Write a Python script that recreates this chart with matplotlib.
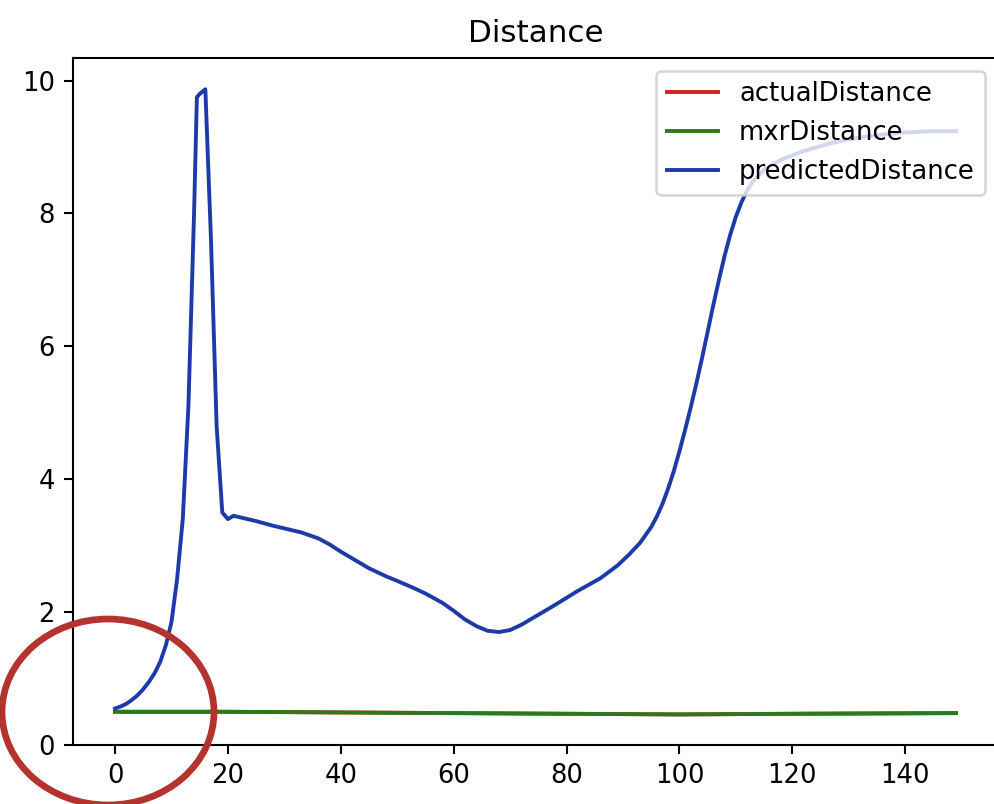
import matplotlib
matplotlib.use("Agg")
import matplotlib.pyplot as plt

# step indices and distances for each series
actual_x = [0, 20, 40, 60, 80, 100, 120, 149]
actual_y = [0.50, 0.50, 0.49, 0.48, 0.47, 0.46, 0.47, 0.48]

mxr_x = [0, 20, 40, 60, 80, 100, 120, 149]
mxr_y = [0.50, 0.50, 0.49, 0.48, 0.47, 0.46, 0.47, 0.48]

pred_x = [0, 1, 2, 3, 4, 5, 6, 7, 8, 9, 10, 11, 12, 13, 14, 14.5, 15, 16, 17,
          18, 19, 20, 21, 22, 25, 28, 30, 33, 36, 38, 40, 43, 45, 48, 50, 53,
          55, 58, 60, 62, 64, 66, 68, 70, 72, 75, 78, 82, 86, 89, 91, 93, 95,
          96, 97, 98, 99, 100, 101, 102, 103, 104, 105, 106, 107, 108, 109,
          110, 111, 112, 113, 115, 118, 122, 126, 130, 135, 140, 145, 149]
pred_y = [0.55, 0.58, 0.62, 0.68, 0.75, 0.84, 0.95, 1.08, 1.25, 1.50, 1.85,
          2.50, 3.40, 5.10, 8.00, 9.75, 9.80, 9.87, 7.60, 4.80, 3.50, 3.40,
          3.45, 3.43, 3.37, 3.30, 3.26, 3.20, 3.11, 3.02, 2.91, 2.76, 2.66,
          2.54, 2.47, 2.36, 2.28, 2.14, 2.02, 1.89, 1.79, 1.72, 1.70, 1.73,
          1.81, 1.96, 2.11, 2.32, 2.51, 2.70, 2.86, 3.04, 3.28, 3.44, 3.63,
          3.86, 4.12, 4.42, 4.74, 5.08, 5.44, 5.82, 6.22, 6.62, 7.00, 7.36,
          7.68, 7.95, 8.17, 8.35, 8.48, 8.66, 8.81, 8.94, 9.04, 9.12, 9.18,
          9.22, 9.24, 9.24]

fig = plt.figure(figsize=(994 / 186, 804 / 186), dpi=186)
ax = fig.add_axes([73 / 994, 59 / 804, 925 / 994, 687 / 804])

ax.plot(actual_x, actual_y, color="#d62020", label="actualDistance")
ax.plot(mxr_x, mxr_y, color="#2a7a1c", label="mxrDistance")
ax.plot(pred_x, pred_y, color="#1c3aa8", label="predictedDistance")

ax.set_ylim(bottom=0)
ax.set_title("Distance")
ax.legend(loc="upper right")

# the red circle drawn over the start of the curves
circle = matplotlib.patches.Ellipse((108 / 994, 1 - 712 / 804), 212 / 994, 186 / 804,
                                    transform=fig.transFigure, fill=False,
                                    edgecolor="#b5332e", linewidth=2.6, zorder=10)
fig.patches.append(circle)

fig.savefig("out.png", dpi=186)
